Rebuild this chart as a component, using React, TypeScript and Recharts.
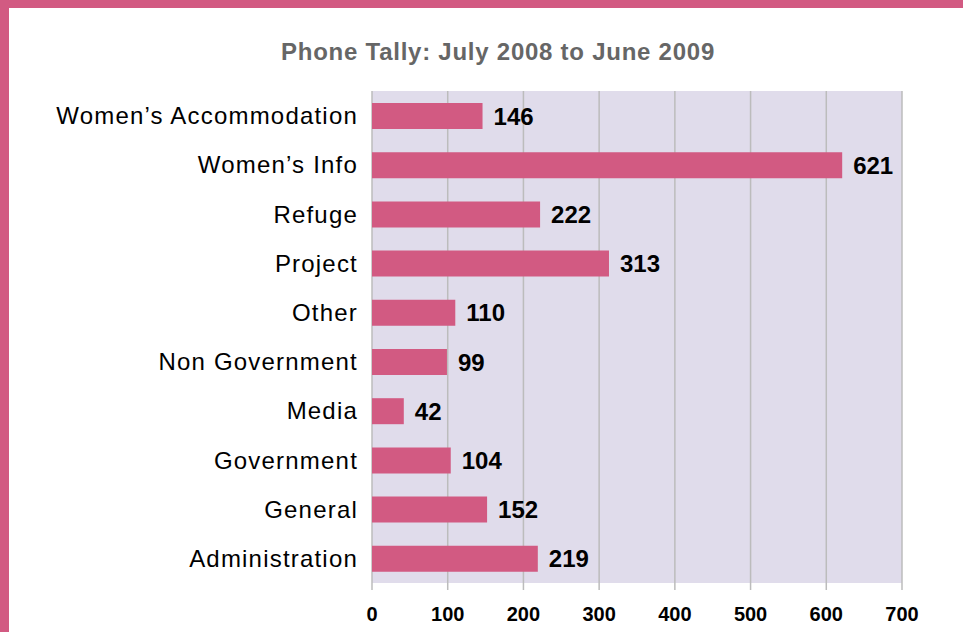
import React from 'react';
import { BarChart, Bar, XAxis, YAxis, CartesianGrid, LabelList } from 'recharts';

const categories = [
  'Women’s Accommodation',
  'Women’s Info',
  'Refuge',
  'Project',
  'Other',
  'Non Government',
  'Media',
  'Government',
  'General',
  'Administration',
];
const calls = [146, 621, 222, 313, 110, 99, 42, 104, 152, 219];
const xTicks = [0, 100, 200, 300, 400, 500, 600, 700];
const title = 'Phone Tally: July 2008 to June 2009';

const data = categories.map((name, i) => ({ name, calls: calls[i] }));

const PINK = '#d25a82';
const FONT = '"Liberation Sans", Arial, Helvetica, sans-serif';

export default function App() {
  return (
    <div style={{ position: 'absolute', left: 0, top: 0, width: 963, height: 632, background: '#fff', overflow: 'hidden', fontFamily: FONT }}>
      <div style={{ position: 'absolute', left: 0, top: 0, width: 963, height: 8, background: PINK }} />
      <div style={{ position: 'absolute', left: 0, top: 0, width: 9, height: 632, background: PINK }} />
      <div
        style={{
          position: 'absolute',
          left: 198,
          top: 40,
          width: 600,
          textAlign: 'center',
          fontSize: 24,
          lineHeight: '24px',
          fontWeight: 'bold',
          letterSpacing: 0.75,
          color: '#666666',
          whiteSpace: 'nowrap',
        }}
      >
        {title}
      </div>
      <div style={{ position: 'absolute', left: 0, top: 0 }}>
        <BarChart
          width={963}
          height={632}
          data={data}
          layout="vertical"
          margin={{ top: 91, right: 61, bottom: 19, left: 0 }}
          barCategoryGap={0}
        >
          <CartesianGrid horizontal={false} vertical={true} stroke="#bcbcbc" strokeWidth={1.5} fill="#e0dceb" />
          <XAxis
            type="number"
            domain={[0, 700]}
            ticks={xTicks}
            interval={0}
            axisLine={false}
            tickLine={{ stroke: '#bcbcbc', strokeWidth: 1.5 }}
            tickSize={7}
            tickMargin={17}
            height={30}
            tick={{ fill: '#000', fontSize: 20, fontWeight: 'bold', fontFamily: FONT }}
          />
          <YAxis
            type="category"
            dataKey="name"
            width={372}
            axisLine={false}
            tickLine={false}
            tickSize={6}
            tickMargin={8}
            interval={0}
            tick={{ fill: '#000', fontSize: 24, fontFamily: FONT, letterSpacing: 1.2 }}
          />
          <Bar dataKey="calls" fill={PINK} barSize={26} isAnimationActive={false}>
            <LabelList
              dataKey="calls"
              position="right"
              offset={11}
              fill="#000"
              fontSize={24}
              fontWeight="bold"
              fontFamily={FONT}
            />
          </Bar>
        </BarChart>
      </div>
    </div>
  );
}
